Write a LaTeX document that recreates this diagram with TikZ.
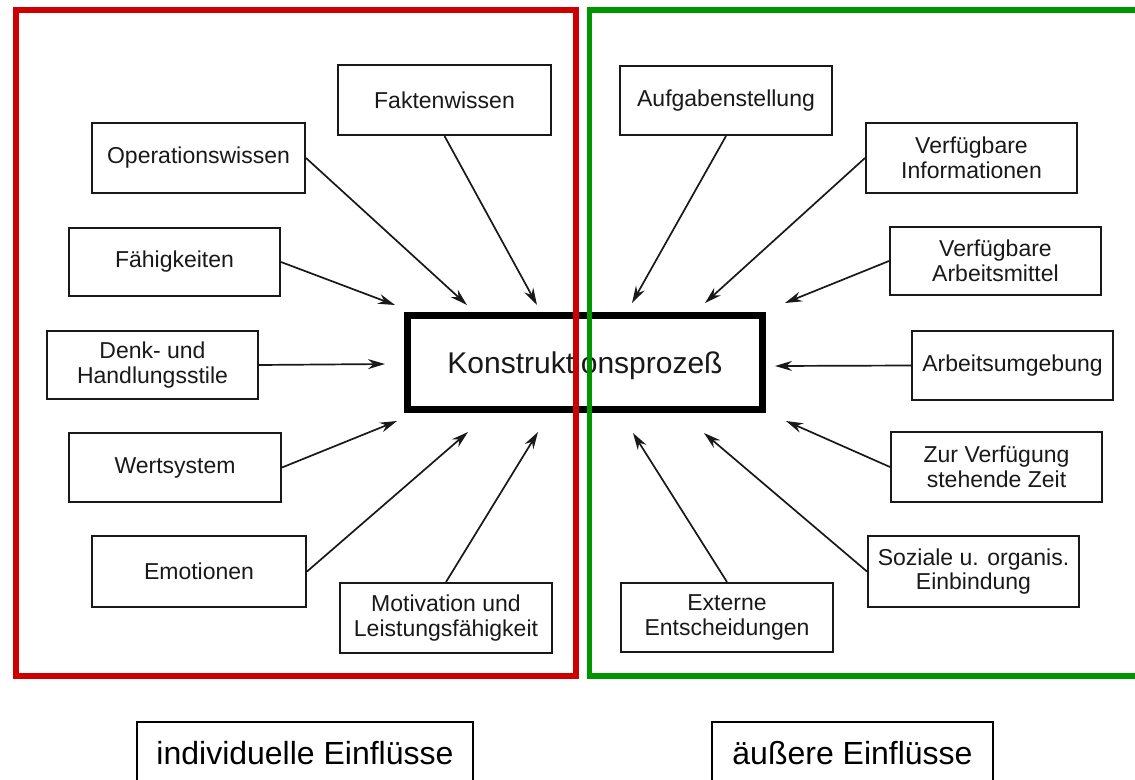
\documentclass[tikz,border=0pt]{standalone}
\usepackage{fontspec}
\setmainfont{Liberation Sans}
\usetikzlibrary{arrows.meta}
\definecolor{frameRed}{RGB}{204,0,0}
\definecolor{frameGreen}{RGB}{0,150,0}
\definecolor{ink}{RGB}{25,25,25}
\tikzset{
  factor/.style={draw=ink, line width=2pt, align=center, inner sep=0pt,
    font=\fontsize{23}{24.5}\selectfont, text=ink},
  arr/.style={draw=ink, line width=1.7pt, -{Stealth[length=17pt,width=10pt]}},
  core/.style={draw=black, line width=7pt, inner sep=0pt, text depth=0pt,
    minimum width=355pt, minimum height=94pt, font=\fontsize{30}{32}\selectfont, text=ink},
  group/.style={draw=black, line width=1.5pt, inner sep=0pt, minimum height=62pt,
    font=\fontsize{32}{34}\selectfont},
  frame/.style={line width=5.5pt}
}
\begin{document}
\begin{tikzpicture}[x=1pt,y=-1pt]
  \useasboundingbox (0,0) rectangle (1135,779);
  \clip (0,0) rectangle (1135,779);
  \fill[white] (0,0) rectangle (1135,779);

  % central process
  \node[core] (kp) at (585,362.5) {Konstruktionsprozeß};

  % individual influences
  \node[factor, minimum width=213pt, minimum height=70pt] (fakt) at (444.5,100) {Faktenwissen};
  \node[factor, minimum width=213pt, minimum height=70pt] (oper) at (198.5,158) {Operationswissen};
  \node[factor, minimum width=211pt, minimum height=68pt] (faeh) at (174.5,262) {Fähigkeiten};
  \node[factor, minimum width=211pt, minimum height=68pt] (denk) at (152.5,365) {Denk- und\\Handlungsstile};
  \node[factor, minimum width=212pt, minimum height=69pt] (wert) at (175,467.5) {Wertsystem};
  \node[factor, minimum width=214pt, minimum height=71pt] (emot) at (199,571.5) {Emotionen};
  \node[factor, minimum width=212pt, minimum height=70pt] (moti) at (446,618) {Motivation und\\Leistungsfähigkeit};

  % external influences
  \node[factor, minimum width=212pt, minimum height=69pt] (aufg) at (726,100.5) {Aufgabenstellung};
  \node[factor, minimum width=211pt, minimum height=70pt] (vinf) at (971.5,158) {Verfügbare\\Informationen};
  \node[factor, minimum width=211pt, minimum height=68pt] (varb) at (995.5,261) {Verfügbare\\Arbeitsmittel};
  \node[factor, minimum width=201pt, minimum height=69pt] (umg) at (1012.5,365.5) {Arbeitsumgebung};
  \node[factor, minimum width=211pt, minimum height=70pt] (zeit) at (996.5,467) {Zur Verfügung\\stehende Zeit};
  \node[factor, minimum width=211pt, minimum height=71pt] (soz) at (973.5,571.5) {Soziale u. organis.\\Einbindung};
  \node[factor, minimum width=212pt, minimum height=69pt] (ext) at (727,617.5) {Externe\\Entscheidungen};

  % arrow tips around the central process
  \coordinate (tFakt) at (537,305);
  \coordinate (tOper) at (467,305);
  \coordinate (tFaeh) at (395,305);
  \coordinate (tDenk) at (385,364);
  \coordinate (tWert) at (397,421);
  \coordinate (tEmot) at (468,432);
  \coordinate (tMoti) at (538,432);
  \coordinate (tAufg) at (632,303);
  \coordinate (tVinf) at (705,303);
  \coordinate (tVarb) at (785,303);
  \coordinate (tUmg)  at (775,366);
  \coordinate (tZeit) at (786,421);
  \coordinate (tSoz)  at (704,433);
  \coordinate (tExt)  at (633,433);

  \draw[arr] (fakt.south) -- (tFakt);
  \draw[arr] (oper.east)  -- (tOper);
  \draw[arr] (faeh.east)  -- (tFaeh);
  \draw[arr] (denk.east)  -- (tDenk);
  \draw[arr] (wert.east)  -- (tWert);
  \draw[arr] (emot.east)  -- (tEmot);
  \draw[arr] (moti.north) -- (tMoti);
  \draw[arr] (aufg.south) -- (tAufg);
  \draw[arr] (vinf.west)  -- (tVinf);
  \draw[arr] (varb.west)  -- (tVarb);
  \draw[arr] (umg.west)   -- (tUmg);
  \draw[arr] (zeit.west)  -- (tZeit);
  \draw[arr] (soz.west)   -- (tSoz);
  \draw[arr] (ext.north)  -- (tExt);

  % grouping frames
  \draw[frame, frameRed]   (16,10) rectangle (576,676);
  \draw[frame, frameGreen] (589.5,10) rectangle (1150,676);

  % group captions
  \node[group, minimum width=336pt] (indiv) at (305,753) {individuelle Einflüsse};
  \node[group, minimum width=281pt] (aeuss) at (852.5,753) {äußere Einflüsse};
\end{tikzpicture}
\end{document}
